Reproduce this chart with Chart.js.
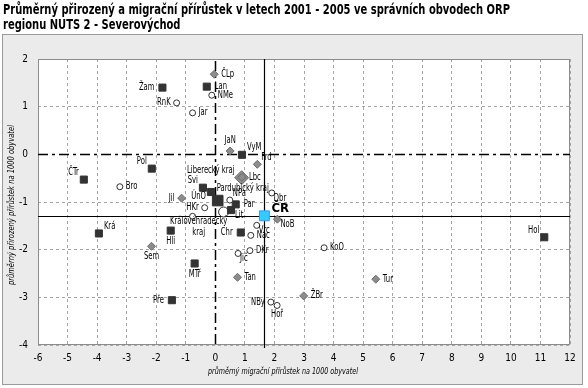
<!DOCTYPE html>
<html>
<head>
<meta charset="utf-8">
<script src="https://cdn.jsdelivr.net/npm/chart.js@4.4.0/dist/chart.umd.min.js"></script>
<style>
	html, body { margin: 0; padding: 0; background: #fff; }
	#wrap { width: 588px; height: 388px; }
</style>
</head>
<body>
<div id="wrap"><canvas id="orpChart" width="588" height="388"></canvas></div>
<script>
(function () {
	'use strict';

	var NARROW = '"Liberation Sans Narrow", "Arial Narrow", "DejaVu Sans Condensed", sans-serif';

	var titleLines = [
		'Průměrný přirozený a migrační přírůstek v letech 2001 - 2005 ve správních obvodech ORP',
		'regionu NUTS 2 - Severovýchod'
	];
	var xTitle = 'průměrný migrační přírůstek na 1000 obyvatel';
	var yTitle = 'průměrný přirozený přírůstek na 1000 obyvatel';

	// ORP Libereckého kraje (x = migrační, y = přirozený přírůstek)
	var libNames = ['ČLp', 'JaN', 'Frd', 'Lbc', 'Jil', 'NoB', 'Sem', 'Tan', 'Tur', 'ŽBr'];
	var libMig = [-0.04, 0.50, 1.42, 0.90, -1.14, 2.10, -2.16, 0.75, 5.43, 2.99];
	var libPrir = [1.68, 0.07, -0.21, -0.48, -0.92, -1.36, -1.93, -2.58, -2.62, -2.97];
	var libLabelPos = ['r', 't', 'tr', 'r', 'l', 'br', 'b', 'r', 'r', 'r'];

	// ORP Královéhradeckého kraje
	var hkNames = ['NMe', 'RnK', 'Jar', 'Bro', 'NPa', 'Dbr', 'HKr', '', 'Vrc', 'Nác', 'DKr', 'Jič', 'KoO', 'NBy', 'Hoř'];
	var hkMig = [-0.12, -1.31, -0.77, -3.23, 0.49, 1.91, -0.36, -0.77, 1.40, 1.20, 1.17, 0.77, 3.68, 1.88, 2.09];
	var hkPrir = [1.24, 1.08, 0.87, -0.68, -0.96, -0.81, -1.12, -1.30, -1.49, -1.70, -2.02, -2.08, -1.96, -3.10, -3.17];
	var hkLabelPos = ['r', 'l', 'r', 'r', 'tr', 'br', 'l', 'r', 'br', 'r', 'r', 'br', 'r', 'l', 'b'];

	// ORP Pardubického kraje
	var paNames = ['Žam', 'Lan', 'VyM', 'Pol', 'ČTr', 'Svi', 'ÚnO', 'Par', 'Lit', 'Krá', 'Hli', 'Chr', 'MTř', 'Pře', 'Hol'];
	var paMig = [-1.79, -0.29, 0.90, -2.15, -4.45, -0.42, -0.15, 0.69, 0.53, -3.94, -1.51, 0.86, -0.70, -1.47, 11.13];
	var paPrir = [1.40, 1.42, -0.01, -0.30, -0.53, -0.70, -0.79, -1.05, -1.17, -1.66, -1.60, -1.64, -2.29, -3.06, -1.74];
	var paLabelPos = ['l', 'r', 'tr', 'tl', 'tl', 'tl', 'bl', 'r', 'br', 'tr', 'b', 'l', 'b', 'l', 'tl'];

	// kraje a ČR
	var krajNames = ['Liberecký kraj', 'Královéhradecký\nkraj', 'Pardubický kraj'];
	var krajMig = [0.89, 0.28, 0.08];
	var krajPrir = [-0.49, -1.21, -0.97];
	var krajLabelPos = ['tl', 'b2', 'ta'];

	var crName = 'ČR';
	var crMig = 1.66;
	var crPrir = -1.29;

	function pts(xs, ys) {
		return xs.map(function (x, i) { return { x: x, y: ys[i] }; });
	}

	var gridColor = function (ctx) {
		return ctx.tick && ctx.tick.value === 0 ? 'rgba(0,0,0,0)' : '#a6a6a6';
	};

	function drawLabel(c, text, pos, x, y, r, sx) {
		var lines = text.split('\n');
		var tx = x, ty = y;
		c.textAlign = 'left';
		c.textBaseline = 'middle';
		switch (pos) {
			case 'r': tx = x + r + 3; break;
			case 'l': tx = x - r - 3; c.textAlign = 'right'; break;
			case 't': ty = y - r - 2; c.textAlign = 'center'; c.textBaseline = 'bottom'; break;
			case 'b': ty = y + r + 1; c.textAlign = 'center'; c.textBaseline = 'top'; break;
			case 'tr': tx = x + r; ty = y - 2; c.textBaseline = 'bottom'; break;
			case 'tl': tx = x - r; ty = y - 2; c.textAlign = 'right'; c.textBaseline = 'bottom'; break;
			case 'br': tx = x + r - 1; ty = y; c.textBaseline = 'top'; break;
			case 'bl': tx = x - r; ty = y - 1; c.textAlign = 'right'; c.textBaseline = 'top'; break;
			case 'ta': tx = x - 1; ty = y - r; c.textBaseline = 'bottom'; break;
			case 'b2': tx = x - 25; ty = y + 4; c.textAlign = 'center'; c.textBaseline = 'top'; break;
			case 'cr': tx = x + r; ty = y - 7; break;
		}
		c.save();
		c.translate(tx, ty);
		c.scale(sx, 1);
		lines.forEach(function (line, i) {
			c.fillText(line, 0, i * 11);
		});
		c.restore();
	}

	var extras = {
		id: 'orpExtras',
		beforeDraw: function (chart) {
			var c = chart.ctx;
			var a = chart.chartArea;
			c.save();
			c.fillStyle = '#fff';
			c.fillRect(0, 0, chart.width, chart.height);

			// nadpis
			c.fillStyle = '#000';
			c.font = 'bold 14px ' + NARROW;
			c.textAlign = 'left';
			c.textBaseline = 'alphabetic';
			var w = c.measureText(titleLines[0]).width;
			var sx = Math.min(1, 507 / w);
			c.save();
			c.translate(3, 0);
			c.scale(sx, 1);
			c.fillText(titleLines[0], 0, 14);
			c.fillText(titleLines[1], 0, 29);
			c.restore();

			// šedý panel
			c.fillStyle = '#ebebeb';
			c.fillRect(2.5, 34.5, 580, 350);
			c.strokeStyle = '#9a9a9a';
			c.lineWidth = 1;
			c.strokeRect(2.5, 34.5, 580, 350);

			c.fillStyle = '#fff';
			c.fillRect(a.left, a.top, a.right - a.left, a.bottom - a.top);

			// popisy os
			c.fillStyle = '#000';
			c.font = 'italic 9px ' + NARROW;
			c.textAlign = 'center';
			c.textBaseline = 'middle';
			c.save();
			c.translate(283, 372);
			c.scale(150 / c.measureText(xTitle).width, 1);
			c.fillText(xTitle, 0, 0);
			c.restore();
			c.save();
			c.translate(12, (a.top + a.bottom) / 2 + 3);
			c.rotate(-Math.PI / 2);
			c.scale(160 / c.measureText(yTitle).width, 1);
			c.fillText(yTitle, 0, 0);
			c.restore();
			c.restore();
		},
		beforeDatasetsDraw: function (chart) {
			var c = chart.ctx;
			var a = chart.chartArea;
			var xs = chart.scales.x;
			var ys = chart.scales.y;
			c.save();
			c.strokeStyle = '#8c8c8c';
			c.lineWidth = 1;
			c.strokeRect(a.left + 0.5, a.top + 0.5, a.right - a.left - 1, a.bottom - a.top - 1);

			// nulové osy
			c.strokeStyle = '#000';
			c.lineWidth = 1.5;
			c.setLineDash([10, 4, 3, 4]);
			var x0 = Math.round(xs.getPixelForValue(0)) + 0.5;
			var y0 = Math.round(ys.getPixelForValue(0)) + 0.5;
			c.beginPath();
			c.moveTo(x0, a.top + 2);
			c.lineTo(x0, a.bottom);
			c.moveTo(a.left, y0);
			c.lineTo(a.right, y0);
			c.stroke();

			// průměr ČR
			c.setLineDash([]);
			c.lineWidth = 1.2;
			var xc = Math.round(xs.getPixelForValue(crMig)) + 0.5;
			var yc = Math.round(ys.getPixelForValue(crPrir)) + 0.5;
			c.beginPath();
			c.moveTo(xc, a.top);
			c.lineTo(xc, a.bottom + 3);
			c.moveTo(a.left, yc);
			c.lineTo(a.right, yc);
			c.stroke();
			c.restore();
		},
		afterDatasetsDraw: function (chart) {
			var c = chart.ctx;
			c.save();
			c.fillStyle = '#000';
			chart.data.datasets.forEach(function (ds, di) {
				if (!ds.labels) {
					return;
				}
				c.font = ds.labelFont || ('10px ' + NARROW);
				var meta = chart.getDatasetMeta(di);
				meta.data.forEach(function (el, i) {
					if (ds.labels[i]) {
						drawLabel(c, ds.labels[i], ds.labelPos[i], el.x, el.y, ds.pointRadius, ds.labelFont ? 1 : 0.76);
					}
				});
			});
			c.restore();
		}
	};

	new Chart(document.getElementById('orpChart'), {
		type: 'scatter',
		data: {
			datasets: [{
				label: 'ORP Liberecký kraj',
				data: pts(libMig, libPrir),
				labels: libNames,
				labelPos: libLabelPos,
				pointStyle: 'rectRot',
				pointRadius: 4,
				backgroundColor: '#8c8c8c',
				borderColor: '#6e6e6e',
				borderWidth: 1,
			}, {
				label: 'ORP Královéhradecký kraj',
				data: pts(hkMig, hkPrir),
				labels: hkNames,
				labelPos: hkLabelPos,
				pointStyle: 'circle',
				pointRadius: 3,
				backgroundColor: '#fff',
				borderColor: '#333',
				borderWidth: 1,
			}, {
				label: 'ORP Pardubický kraj',
				data: pts(paMig, paPrir),
				labels: paNames,
				labelPos: paLabelPos,
				pointStyle: 'rect',
				pointRadius: 5,
				backgroundColor: '#333',
				borderColor: '#333',
				borderWidth: 1,
			}, {
				label: 'Liberecký kraj',
				data: pts(krajMig.slice(0, 1), krajPrir.slice(0, 1)),
				labels: krajNames.slice(0, 1),
				labelPos: krajLabelPos.slice(0, 1),
				pointStyle: 'rectRot',
				pointRadius: 7,
				backgroundColor: '#8c8c8c',
				borderColor: '#6e6e6e',
				borderWidth: 1,
			}, {
				label: 'Královéhradecký kraj',
				data: pts(krajMig.slice(1, 2), krajPrir.slice(1, 2)),
				labels: krajNames.slice(1, 2),
				labelPos: krajLabelPos.slice(1, 2),
				pointStyle: 'circle',
				pointRadius: 5,
				backgroundColor: '#fff',
				borderColor: '#333',
				borderWidth: 1,
			}, {
				label: 'Pardubický kraj',
				data: pts(krajMig.slice(2, 3), krajPrir.slice(2, 3)),
				labels: krajNames.slice(2, 3),
				labelPos: krajLabelPos.slice(2, 3),
				pointStyle: 'rect',
				pointRadius: 7.5,
				backgroundColor: '#333',
				borderColor: '#333',
				borderWidth: 1,
			}, {
				label: crName,
				data: [{ x: crMig, y: crPrir }],
				labels: [crName],
				labelPos: ['cr'],
				labelFont: 'bold 13px ' + NARROW,
				pointStyle: 'rect',
				pointRadius: 7,
				backgroundColor: '#33ccff',
				borderColor: '#3399ff',
				borderWidth: 1,
			}, {
				label: crName + ' x',
				data: [{ x: crMig, y: crPrir }],
				pointStyle: 'crossRot',
				pointRadius: 3,
				borderColor: '#1f3f9f',
				borderWidth: 1,
			}],
		},
		options: {
			responsive: false,
			animation: false,
			devicePixelRatio: 1,
			layout: { padding: { top: 59, right: 18, left: 0, bottom: 0 } },
			plugins: {
				legend: { display: false },
				tooltip: { enabled: false },
			},
			scales: {
				x: {
					type: 'linear',
					min: -6,
					max: 12,
					afterFit: function (s) { s.height = 43; },
					ticks: { stepSize: 1, padding: 7, color: '#000', font: { family: NARROW, size: 10 } },
					grid: { color: gridColor, drawTicks: false, lineWidth: 1 },
					border: { display: false, dash: [3, 3] },
				},
				y: {
					type: 'linear',
					min: -4,
					max: 2,
					afterFit: function (s) { s.width = 38; },
					ticks: { stepSize: 1, padding: 10, color: '#000', font: { family: NARROW, size: 10 } },
					grid: { color: gridColor, drawTicks: false, lineWidth: 1 },
					border: { display: false, dash: [3, 3] },
				},
			},
		},
		plugins: [extras],
	});
})();
</script>
</body>
</html>
